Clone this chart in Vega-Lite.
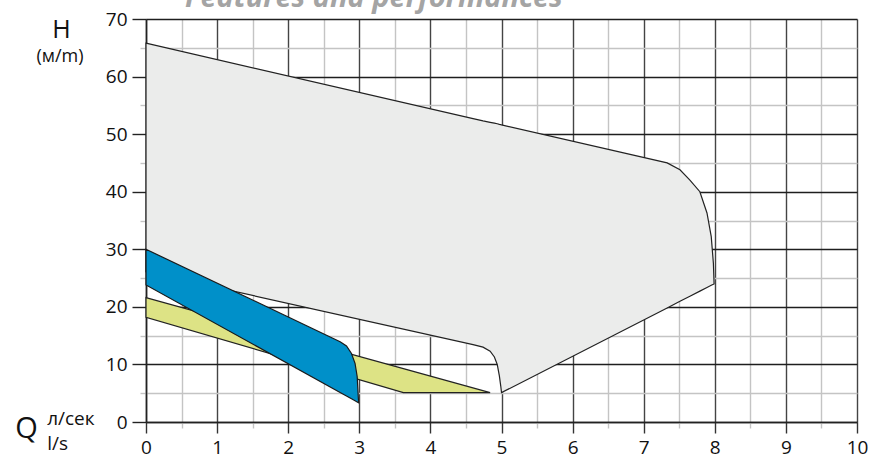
{
  "$schema": "https://vega.github.io/schema/vega-lite/v6.json",
  "autosize": "none",
  "width": 711,
  "height": 403,
  "padding": {"left": 146, "top": 19, "right": 14, "bottom": 40},
  "config": {"view": {"stroke": null}, "font": "Open Sans"},
  "title": {
    "text": "Features and performances",
    "font": "Open Sans",
    "fontSize": 29,
    "fontStyle": "italic",
    "fontWeight": "bold",
    "color": "#a4a4a4",
    "anchor": "start",
    "frame": "group",
    "dx": 39,
    "offset": -26,
    "baseline": "alphabetic"
  },
  "datasets": {
    "gray": [
      {"x": 0, "top": 65.8, "bottom": 26.1},
      {"x": 4.6, "top": 52.7, "bottom": 13.45},
      {"x": 4.74, "top": 52.3, "bottom": 13.0},
      {"x": 4.84, "top": 52.05, "bottom": 12.3},
      {"x": 4.9, "top": 51.9, "bottom": 11.3},
      {"x": 4.94, "top": 51.8, "bottom": 10.0},
      {"x": 4.97, "top": 51.7, "bottom": 8.0},
      {"x": 4.99, "top": 51.65, "bottom": 6.2},
      {"x": 5.0, "top": 51.6, "bottom": 5.1},
      {"x": 7.33, "top": 45.0, "bottom": 19.8},
      {"x": 7.51, "top": 43.8, "bottom": 20.96},
      {"x": 7.65, "top": 42.0, "bottom": 21.85},
      {"x": 7.79, "top": 40.0, "bottom": 22.73},
      {"x": 7.89, "top": 36.3, "bottom": 23.36},
      {"x": 7.95, "top": 32.2, "bottom": 23.74},
      {"x": 7.98, "top": 27.6, "bottom": 23.93},
      {"x": 7.99, "top": 24.0, "bottom": 24.0}
    ],
    "yellow": [
      {"x": 0, "top": 21.6, "bottom": 18.2},
      {"x": 3.62, "top": 9.26, "bottom": 5.1},
      {"x": 4.84, "top": 5.1, "bottom": 5.1}
    ],
    "blue": [
      {"x": 0, "top": 30.0, "bottom": 23.8},
      {"x": 2.73, "top": 13.95, "bottom": 5.13},
      {"x": 2.82, "top": 13.2, "bottom": 4.51},
      {"x": 2.89, "top": 11.9, "bottom": 4.03},
      {"x": 2.94, "top": 10.2, "bottom": 3.69},
      {"x": 2.97, "top": 7.9, "bottom": 3.49},
      {"x": 2.99, "top": 3.4, "bottom": 3.35}
    ]
  },
  "resolve": {"axis": {"x": "independent", "y": "independent"}},
  "layer": [
    {
      "data": {"name": "gray"},
      "mark": {"type": "area", "fill": "#ebeceb", "stroke": "#222222", "strokeWidth": 1.2},
      "encoding": {
        "x": {
          "field": "x", "type": "quantitative",
          "scale": {"domain": [0, 10], "nice": false, "zero": false},
          "axis": {
            "orient": "bottom",
            "values": [0.5,1.5,2.5,3.5,4.5,5.5,6.5,7.5,8.5,9.5],
            "labels": false,
            "domain": false,
            "title": null,
            "grid": true,
            "gridColor": "#c4c4c4",
            "gridWidth": 1.4,
            "tickColor": "#c4c4c4",
            "tickSize": 6,
            "tickWidth": 1.4
          }
        },
        "y": {
          "field": "top", "type": "quantitative",
          "scale": {"domain": [0, 70], "nice": false, "zero": false},
          "axis": {
            "orient": "left",
            "values": [5,15,25,35,45,55,65],
            "labels": false,
            "domain": false,
            "title": null,
            "grid": true,
            "gridColor": "#c4c4c4",
            "gridWidth": 1.4,
            "tickColor": "#c4c4c4",
            "tickSize": 6,
            "tickWidth": 1.4
          }
        },
        "y2": {"field": "bottom"}
      }
    },
    {
      "data": {"name": "yellow"},
      "mark": {"type": "area", "fill": "#dde385", "stroke": "#222222", "strokeWidth": 1.2},
      "encoding": {
        "x": {
          "field": "x", "type": "quantitative", "title": "Q",
          "scale": {"domain": [0, 10], "nice": false, "zero": false},
          "axis": {
            "orient": "bottom",
            "values": [0,1,2,3,4,5,6,7,8,9,10],
            "format": "d",
            "labelOverlap": false,
            "labelBound": false,
            "labelFlush": false,
            "grid": true,
            "gridColor": "#444444",
            "gridWidth": 1.4,
            "tickColor": "#333333",
            "tickSize": 11,
            "tickWidth": 1.4,
            "domainColor": "#222222",
            "domainWidth": 1.6,
            "labelFontSize": 19,
            "labelColor": "#111111",
            "labelPadding": 5,
            "titleFontSize": 29,
            "titleFontWeight": "normal",
            "titleColor": "#111111",
            "titleX": -120,
            "titleY": 15,
            "titleAlign": "center",
            "titleBaseline": "alphabetic"
          }
        },
        "y": {
          "field": "top", "type": "quantitative", "title": "H",
          "scale": {"domain": [0, 70], "nice": false, "zero": false},
          "axis": {
            "orient": "left",
            "values": [0,10,20,30,40,50,60,70],
            "format": "d",
            "labelOverlap": false,
            "labelBound": false,
            "labelFlush": false,
            "grid": true,
            "gridColor": "#1e1e1e",
            "gridWidth": 1.4,
            "tickColor": "#222222",
            "tickSize": 14,
            "tickWidth": 1.4,
            "domainColor": "#222222",
            "domainWidth": 1.6,
            "labelFontSize": 19,
            "labelColor": "#111111",
            "labelPadding": 5,
            "titleFontSize": 25,
            "titleFontWeight": "normal",
            "titleColor": "#111111",
            "titleAngle": 0,
            "titleX": -85,
            "titleY": 18,
            "titleAlign": "center",
            "titleBaseline": "alphabetic"
          }
        },
        "y2": {"field": "bottom"}
      }
    },
    {
      "data": {"name": "blue"},
      "mark": {"type": "area", "fill": "#0090c9", "stroke": "#1a1a1a", "strokeWidth": 1.2},
      "encoding": {
        "x": {"field": "x", "type": "quantitative", "axis": null, "scale": {"domain": [0, 10], "nice": false, "zero": false}},
        "y": {"field": "top", "type": "quantitative", "axis": null, "scale": {"domain": [0, 70], "nice": false, "zero": false}},
        "y2": {"field": "bottom"}
      }
    },
    {
      "data": {"values": [{}]},
      "mark": {"type": "text", "fontSize": 18, "align": "center", "baseline": "alphabetic", "color": "#111111", "font": "Open Sans"},
      "encoding": {
        "x": {"datum": -1.21, "type": "quantitative", "axis": null, "scale": {"domain": [0, 10], "nice": false, "zero": false}},
        "y": {"datum": 62.5, "type": "quantitative", "axis": null, "scale": {"domain": [0, 70], "nice": false, "zero": false}},
        "text": {"value": "(м/m)"}
      }
    },
    {
      "data": {"values": [{}]},
      "mark": {"type": "text", "fontSize": 19, "align": "left", "baseline": "alphabetic", "color": "#111111", "font": "Open Sans"},
      "encoding": {
        "x": {"datum": -1.39, "type": "quantitative", "axis": null, "scale": {"domain": [0, 10], "nice": false, "zero": false}},
        "y": {"datum": -0.52, "type": "quantitative", "axis": null, "scale": {"domain": [0, 70], "nice": false, "zero": false}},
        "text": {"value": "л/сек"}
      }
    },
    {
      "data": {"values": [{}]},
      "mark": {"type": "text", "fontSize": 19, "align": "left", "baseline": "alphabetic", "color": "#111111", "font": "Open Sans"},
      "encoding": {
        "x": {"datum": -1.39, "type": "quantitative", "axis": null, "scale": {"domain": [0, 10], "nice": false, "zero": false}},
        "y": {"datum": -4.86, "type": "quantitative", "axis": null, "scale": {"domain": [0, 70], "nice": false, "zero": false}},
        "text": {"value": "l/s"}
      }
    }
  ]
}
